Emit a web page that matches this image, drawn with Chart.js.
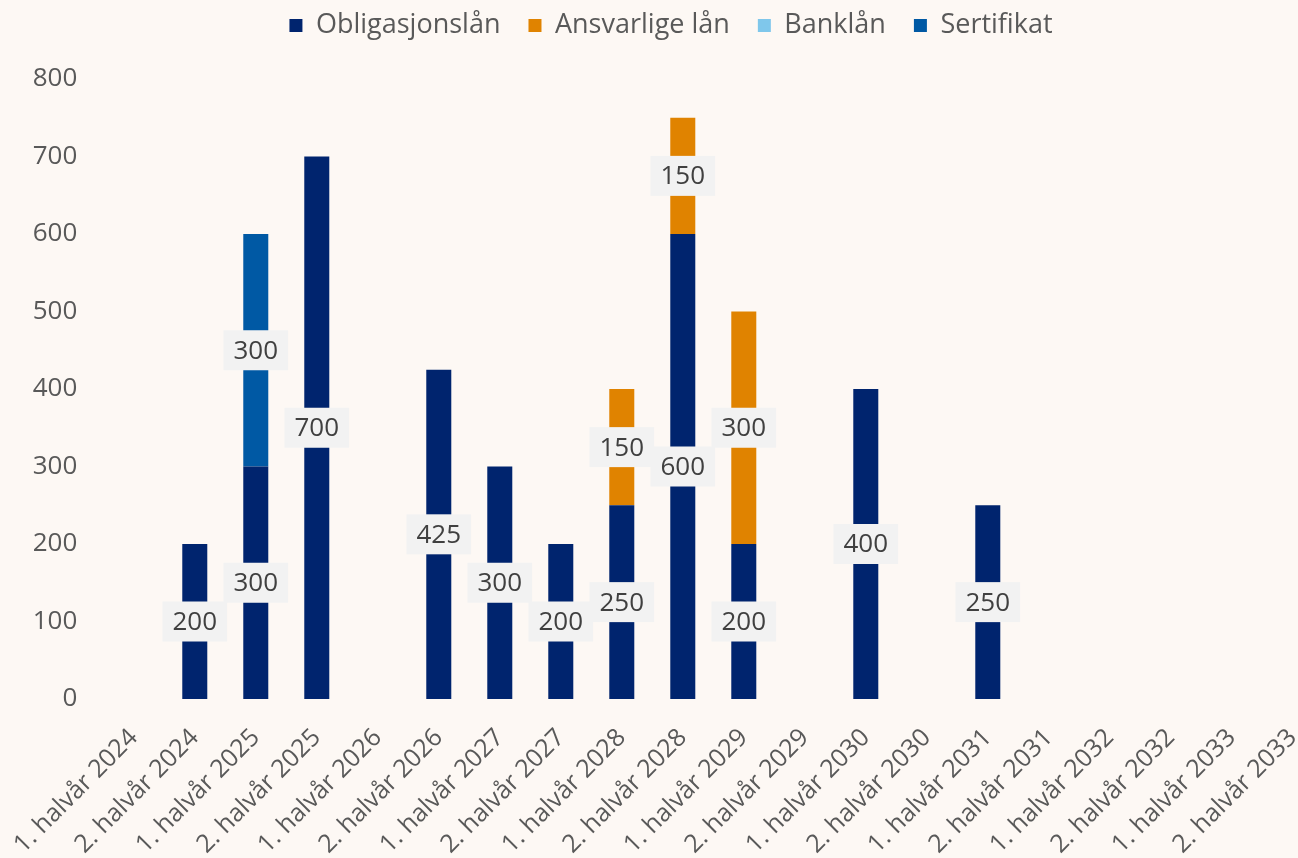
<!DOCTYPE html>
<html>
<head>
<meta charset="utf-8">
<script src="https://cdn.jsdelivr.net/npm/chart.js@4.4.1/dist/chart.umd.min.js"></script>
<style>
  html, body { margin: 0; padding: 0; background: #fdf8f4; overflow: hidden; }
  #wrap { width: 1330px; height: 858px; }
</style>
</head>
<body>
<div id="wrap"><canvas id="c" width="1330" height="858"></canvas></div>
<script>
// forfall per halvår, mill. kr
const perioder = [
  '1. halvår 2024', '2. halvår 2024', '1. halvår 2025', '2. halvår 2025',
  '1. halvår 2026', '2. halvår 2026', '1. halvår 2027', '2. halvår 2027',
  '1. halvår 2028', '2. halvår 2028', '1. halvår 2029', '2. halvår 2029',
  '1. halvår 2030', '2. halvår 2030', '1. halvår 2031', '2. halvår 2031',
  '1. halvår 2032', '2. halvår 2032', '1. halvår 2033', '2. halvår 2033'
];
const obligasjonslan = [null, 200, 300, 700, null, 425, 300, 200, 250, 600, 200, null, 400, null, 250, null, null, null, null, null];
const ansvarligeLan  = [null, null, null, null, null, null, null, null, 150, 150, 300, null, null, null, null, null, null, null, null, null];
const banklan        = [null, null, null, null, null, null, null, null, null, null, null, null, null, null, null, null, null, null, null, null];
const sertifikat     = [null, null, 300, null, null, null, null, null, null, null, null, null, null, null, null, null, null, null, null, null];
const yTicks = [0, 100, 200, 300, 400, 500, 600, 700, 800];

const FONT = "'Open Sans', sans-serif";

// verdietiketter i grå boks midt i hvert segment
const etiketter = {
  id: 'etiketter',
  afterDatasetsDraw(chart) {
    const ctx = chart.ctx;
    ctx.save();
    ctx.font = `26px ${FONT}`;
    ctx.textAlign = 'center';
    ctx.textBaseline = 'middle';
    chart.data.datasets.forEach((ds, i) => {
      const meta = chart.getDatasetMeta(i);
      meta.data.forEach((bar, j) => {
        const v = ds.data[j];
        if (!v) return;
        const y = (bar.y + bar.base) / 2;
        const w = ctx.measureText(String(v)).width + 20;
        const h = 40;
        ctx.fillStyle = '#f2f2f2';
        ctx.fillRect(bar.x - w / 2, y - h / 2, w, h);
        ctx.fillStyle = '#404040';
        ctx.fillText(String(v), bar.x, y + 1);
      });
    });
    ctx.restore();
  }
};

// litt ekstra luft under legenden
const luft = {
  id: 'luft',
  afterInit(chart) {
    const lg = chart.legend;
    const fit = lg.fit;
    lg.fit = function () { fit.call(this); this.height += 30; };
  }
};

const ds = (label, data, color) => ({ label, data, backgroundColor: color, borderWidth: 0, categoryPercentage: 1, barPercentage: 0.41 });

new Chart(document.getElementById('c'), {
  type: 'bar',
  data: {
    labels: perioder,
    datasets: [
      ds('Obligasjonslån', obligasjonslan, '#00246e'),
      ds('Ansvarlige lån', ansvarligeLan, '#e08300'),
      ds('Banklån', banklan, '#7fc7eb'),
      ds('Sertifikat', sertifikat, '#0059a4')
    ]
  },
  options: {
    responsive: false,
    animation: false,
    devicePixelRatio: 1,
    layout: { padding: { top: -16, left: 12, right: 0, bottom: 0 } },
    plugins: {
      legend: {
        position: 'top',
        labels: { font: { family: FONT, size: 27 }, color: '#595959', boxWidth: 13, boxHeight: 13, padding: 28 }
      },
      tooltip: { enabled: false }
    },
    scales: {
      x: {
        stacked: true,
        grid: { display: false },
        border: { display: false },
        ticks: { font: { family: FONT, size: 25 }, color: '#595959', minRotation: 45, maxRotation: 45, autoSkip: false, padding: 16 },
        afterFit(s) { s.height = 159; }
      },
      y: {
        stacked: true,
        min: 0, max: 800,
        afterBuildTicks(s) { s.ticks = yTicks.map(v => ({ value: v })); },
        grid: { display: false },
        border: { display: false },
        ticks: { font: { family: FONT, size: 26 }, color: '#595959', padding: 18 },
        afterFit(s) { s.width = 91; }
      }
    }
  },
  plugins: [etiketter, luft]
});
</script>
</body>
</html>
